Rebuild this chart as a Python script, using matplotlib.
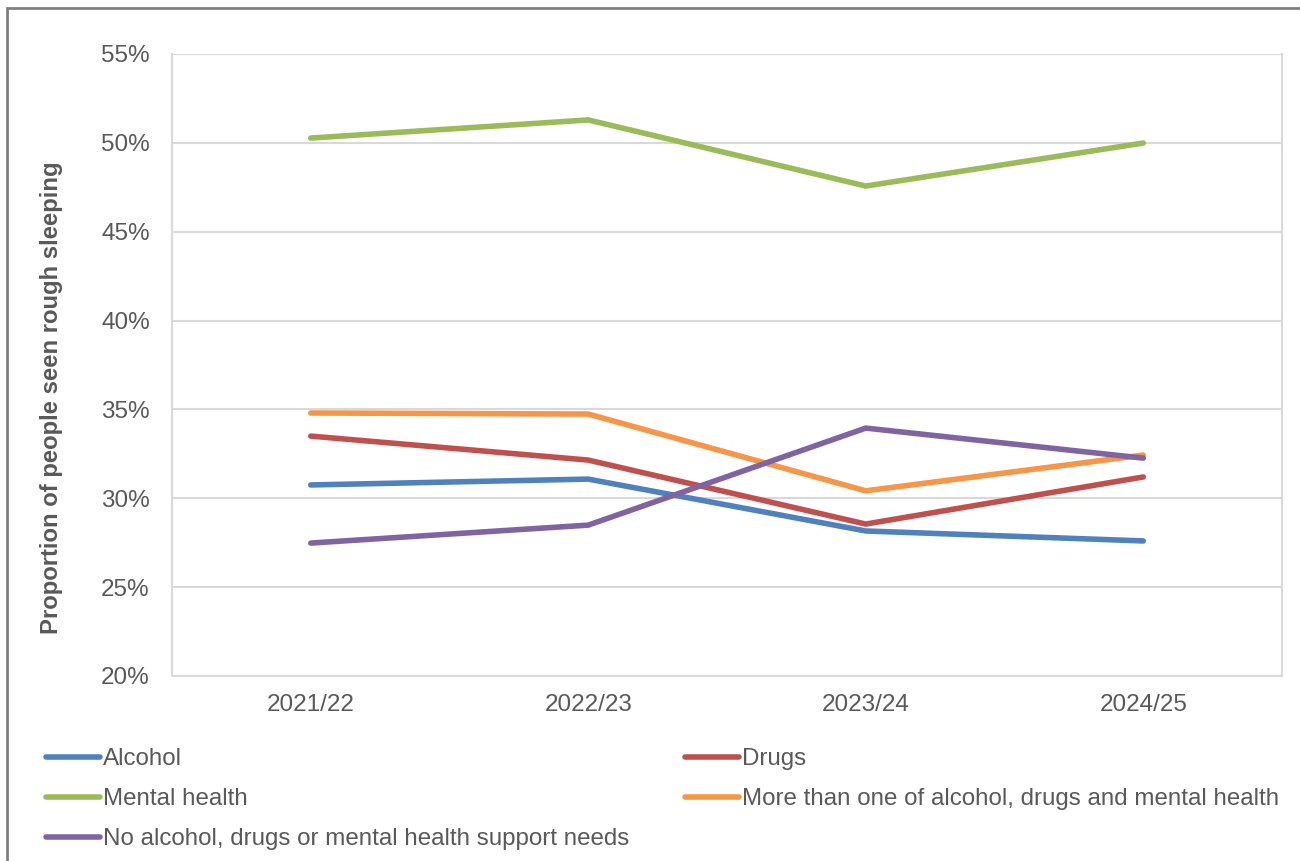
import matplotlib
matplotlib.use("Agg")
import matplotlib.pyplot as plt
from matplotlib.lines import Line2D
from matplotlib.ticker import FuncFormatter

plt.rcParams['font.family'] = ['Liberation Sans', 'DejaVu Sans']

# data
years = ['2021/22', '2022/23', '2023/24', '2024/25']
alcohol = [30.75, 31.08, 28.16, 27.6]
drugs = [33.5, 32.15, 28.55, 31.2]
mental = [50.27, 51.29, 47.57, 49.99]
multiple = [34.8, 34.74, 30.42, 32.43]
no_needs = [27.48, 28.49, 33.95, 32.26]

series = [
    ('Alcohol', alcohol, '#4F81BD'),
    ('Drugs', drugs, '#C0504D'),
    ('Mental health', mental, '#9BBB59'),
    ('More than one of alcohol, drugs and mental health', multiple, '#F79646'),
    ('No alcohol, drugs or mental health support needs', no_needs, '#8064A2'),
]

text_col = '#595959'
grid_col = '#D9D9D9'

fig = plt.figure(figsize=(13, 8.61), dpi=100)
ax = fig.add_axes([172/1300, 1-676/861, (1282-172)/1300, (676-54)/861])

x = range(len(years))
for name, vals, col in series:
    ax.plot(x, vals, color=col, lw=4, solid_capstyle='round', label=name)

ax.set_xlim(-0.5, 3.5)
ax.set_ylim(20, 55)
ax.set_yticks(range(20, 56, 5))
ax.yaxis.set_major_formatter(FuncFormatter(lambda v, p: f'{v:.0f}%'))
ax.set_xticks(list(x))
ax.set_xticklabels(years)
ax.grid(axis='y', color=grid_col, lw=1.5)
ax.set_axisbelow(True)
for s in ax.spines.values():
    s.set_color(grid_col)
    s.set_linewidth(1.5)
ax.spines['top'].set_visible(False)
ax.tick_params(length=0, labelsize=17.5, colors=text_col)
ax.tick_params(axis='y', pad=16)
ax.tick_params(axis='x', pad=13)

fig.text(52/1300, 1-398/861, 'Proportion of people seen rough sleeping',
         rotation=90, ha='center', va='center', fontsize=17.2,
         fontweight='bold', color=text_col)

# legend: two columns, row-wise order
order = [0, 2, 4, 1, 3]
handles = [Line2D([], [], color=series[i][2], lw=4, solid_capstyle='round') for i in order]
labels = [series[i][0] for i in order]
leg = fig.legend(handles, labels, ncol=2, loc='upper left',
                 bbox_to_anchor=(46/1300, 1-748/861), frameon=False,
                 fontsize=17.4, labelcolor=text_col, handlelength=2.25,
                 handletextpad=0.12, columnspacing=2.3, labelspacing=0.75,
                 borderpad=0, borderaxespad=0)

# outer frame (top and left edges visible)
fig.add_artist(plt.Rectangle((6.5/1300, -0.1), 1.2, 1 - 7.5/861 + 0.1,
                             transform=fig.transFigure, fill=False,
                             edgecolor='#808080', lw=2))

fig.savefig('out.png', dpi=100)
